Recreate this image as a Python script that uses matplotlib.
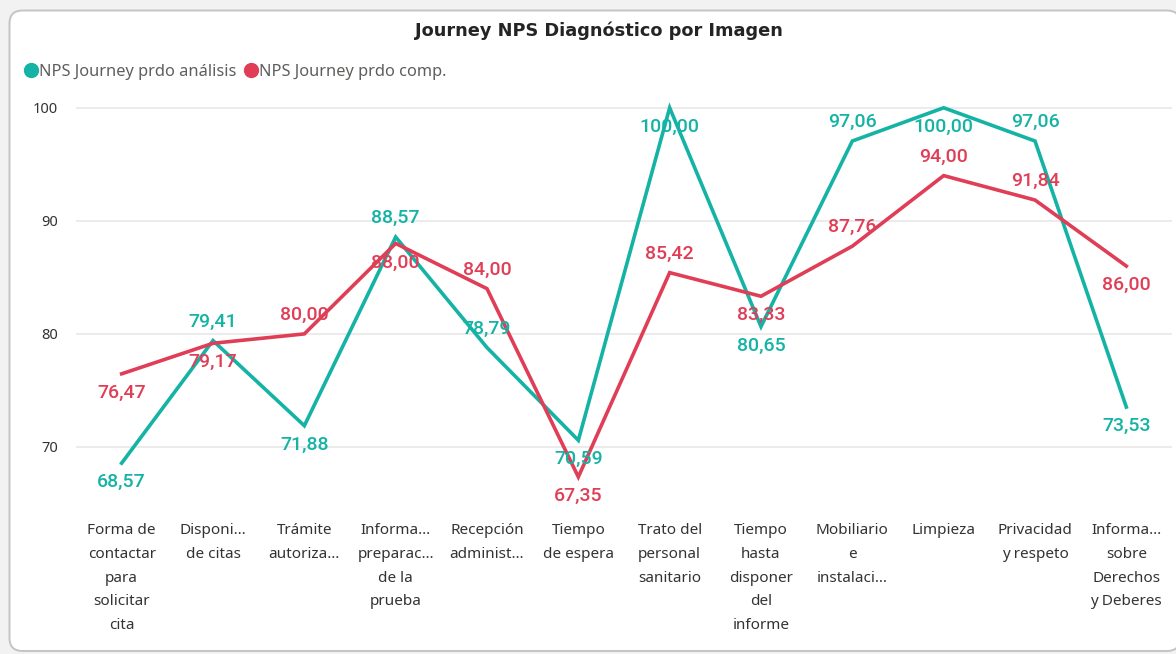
import matplotlib
matplotlib.use('Agg')
import matplotlib.pyplot as plt
from matplotlib.patches import FancyBboxPatch
from matplotlib.lines import Line2D

plt.rcParams['font.family'] = ['Noto Sans', 'DejaVu Sans']

TITLE = 'Journey NPS Diagnóstico por Imagen'

CATEGORIES = [
    'Forma de\ncontactar\npara\nsolicitar\ncita',
    'Disponi…\nde citas',
    'Trámite\nautoriza…',
    'Informa…\npreparac…\nde la\nprueba',
    'Recepción\nadminist…',
    'Tiempo\nde espera',
    'Trato del\npersonal\nsanitario',
    'Tiempo\nhasta\ndisponer\ndel\ninforme',
    'Mobiliario\ne\ninstalaci…',
    'Limpieza',
    'Privacidad\ny respeto',
    'Informa…\nsobre\nDerechos\ny Deberes',
]

ANALISIS_LABEL = 'NPS Journey prdo análisis'
COMP_LABEL = 'NPS Journey prdo comp.'

nps_analisis = [68.57, 79.41, 71.88, 88.57, 78.79, 70.59, 100.00, 80.65, 97.06, 100.00, 97.06, 73.53]
nps_comp = [76.47, 79.17, 80.00, 88.00, 84.00, 67.35, 85.42, 83.33, 87.76, 94.00, 91.84, 86.00]

# where each data label sits: 1 above the point, -1 below
side_analisis = [-1, 1, -1, 1, 1, -1, -1, -1, 1, -1, 1, -1]
side_comp = [-1, -1, 1, -1, 1, -1, 1, -1, 1, 1, 1, -1]

Y_TICKS = [70, 80, 90, 100]

TEAL = '#14B3A5'
RED = '#E03E56'

W, H = 1176, 654
fig = plt.figure(figsize=(W / 100, H / 100), dpi=100)
fig.patch.set_facecolor('#f2f2f2')

# white card behind the visual
card = FancyBboxPatch((9.5, 3), 1180 - 9.5, 643.5 - 3,
                      boxstyle='round,pad=0,rounding_size=13',
                      transform=None, facecolor='white', edgecolor='#c4c4c4',
                      linewidth=1.4, zorder=0)
fig.add_artist(card)

ax = fig.add_axes([76 / W, 1 - 503.5 / H, 1096 / W, (503.5 - 101) / H])
ax.set_facecolor('none')

x = list(range(len(CATEGORIES)))
ax.plot(x, nps_analisis, color=TEAL, lw=2.6, solid_joinstyle='miter', zorder=3)
ax.plot(x, nps_comp, color=RED, lw=2.6, solid_joinstyle='miter', zorder=3)

for vals, sides, col in [(nps_analisis, side_analisis, TEAL), (nps_comp, side_comp, RED)]:
    for i, (v, s) in enumerate(zip(vals, sides)):
        ax.annotate(f'{v:.2f}'.replace('.', ','), (i, v), xytext=(0, 19 * s),
                    textcoords='offset pixels', ha='center', va='center',
                    color=col, fontsize=14, fontweight='medium',
                    family=['Roboto', 'DejaVu Sans'], zorder=4)

ax.set_xlim(-0.5, len(CATEGORIES) - 0.5)
ax.set_ylim(65, 100.6)
ax.set_yticks(Y_TICKS)
ax.set_yticklabels([str(t) for t in Y_TICKS], fontsize=10.5, color='#333333')
ax.set_xticks(x)
ax.set_xticklabels(CATEGORIES, fontsize=11, color='#333333', linespacing=1.8, va='top')
ax.tick_params(axis='y', length=0, pad=13)
ax.tick_params(axis='x', length=0, pad=14)
ax.grid(axis='y', color='#e8e8e8', lw=1.2)
ax.set_axisbelow(True)
for sp in ax.spines.values():
    sp.set_visible(False)

fig.text(599 / W, 1 - 31 / H, TITLE, ha='center', va='center',
         fontsize=12.8, fontweight='bold', color='#252423', family='DejaVu Sans')

handles = [
    Line2D([], [], marker='o', ls='none', color=TEAL, markersize=10),
    Line2D([], [], marker='o', ls='none', color=RED, markersize=10),
]
fig.legend(handles, [ANALISIS_LABEL, COMP_LABEL], loc='center left',
           bbox_to_anchor=(24 / W, 1 - 72 / H), ncol=2, frameon=False,
           handlelength=0.8, handletextpad=0.1, columnspacing=0.5,
           borderaxespad=0, borderpad=0, labelcolor='#605E5C', fontsize=11.8)

fig.savefig('out.png', dpi=100, facecolor=fig.get_facecolor())
